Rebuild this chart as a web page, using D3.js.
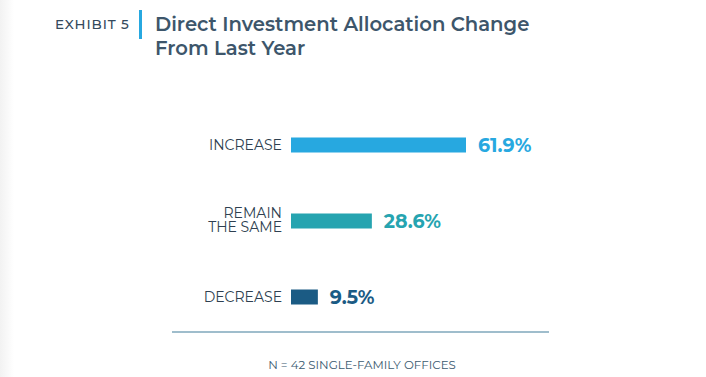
<!DOCTYPE html>
<html>
<head>
<meta charset="utf-8">
<script src="https://cdn.jsdelivr.net/npm/d3@7"></script>
<style>
  body { margin: 0; background: #fff; }
  text { font-family: Montserrat, 'Noto Sans', sans-serif; }
</style>
</head>
<body>
<script>
// data
var categories = [['INCREASE'], ['REMAIN', 'THE SAME'], ['DECREASE']]
var values = [61.9, 28.6, 9.5]
var colors = ['#27a8e0', '#26a4b0', '#1b5b84']

var w = 706
var h = 377

var svg = d3.select('body')
  .append('svg')
  .attr('width', w)
  .attr('height', h)

// faint shade on the left edge
var grad = svg.append('defs').append('linearGradient').attr('id', 'shade')
grad.append('stop').attr('offset', '0%').attr('stop-color', '#f2f2f2')
grad.append('stop').attr('offset', '100%').attr('stop-color', '#ffffff')
svg.append('rect').attr('x', 0).attr('y', 0).attr('width', 14).attr('height', h)
  .attr('fill', 'url(#shade)')

// header
svg.append('text')
  .attr('x', 55).attr('y', 29)
  .attr('font-size', 13.5).attr('font-weight', 500).attr('letter-spacing', 0.9)
  .attr('fill', '#34495c')
  .text('EXHIBIT 5')
svg.append('rect')
  .attr('x', 139).attr('y', 10).attr('width', 3).attr('height', 29)
  .attr('fill', '#27a8e0')
svg.append('text')
  .attr('x', 155).attr('y', 31)
  .attr('font-size', 19.6).attr('font-weight', 600)
  .attr('fill', '#3d566b')
  .text('Direct Investment Allocation Change')
svg.append('text')
  .attr('x', 155).attr('y', 55)
  .attr('font-size', 19.6).attr('font-weight', 600)
  .attr('fill', '#3d566b')
  .text('From Last Year')

// scales
var xScale = d3.scaleLinear()
  .domain([0, d3.max(values)])
  .range([0, 175])

var yScale = d3.scaleBand()
  .domain(d3.range(values.length))
  .range([107, 335])
  .padding(0)

var x0 = 291

function mid (i) { return yScale(i) + yScale.bandwidth() / 2 }

// bars
svg.selectAll('rect.bar')
  .data(values)
  .enter()
  .append('rect')
  .attr('class', 'bar')
  .attr('x', x0)
  .attr('y', function (d, i) { return mid(i) - 7.5 })
  .attr('width', function (d) { return xScale(d) })
  .attr('height', 15)
  .attr('fill', function (d, i) { return colors[i] })

// value labels
svg.selectAll('text.val')
  .data(values)
  .enter()
  .append('text')
  .attr('class', 'val')
  .attr('x', function (d) { return x0 + xScale(d) + 12 })
  .attr('y', function (d, i) { return mid(i) + 7 })
  .attr('font-size', 19).attr('font-weight', 'bold')
  .attr('fill', function (d, i) { return colors[i] })
  .text(function (d) { return d.toFixed(1) + '%' })

// category labels
var cats = svg.selectAll('text.cat')
  .data(categories)
  .enter()
  .append('text')
  .attr('class', 'cat')
  .attr('text-anchor', 'end')
  .attr('font-size', 14)
  .attr('fill', '#2e3f50')
  .attr('y', function (d, i) { return mid(i) + 5 - (d.length - 1) * 8.5 })
cats.selectAll('tspan')
  .data(function (d) { return d })
  .enter()
  .append('tspan')
  .attr('x', 282)
  .attr('dy', function (d, i) { return i === 0 ? 0 : 14.5 })
  .text(function (d) { return d })

// rule and footnote
svg.append('line')
  .attr('x1', 172).attr('x2', 549)
  .attr('y1', 332).attr('y2', 332)
  .attr('stroke', '#9fbdcc').attr('stroke-width', 2)
svg.append('text')
  .attr('x', 362).attr('y', 369)
  .attr('text-anchor', 'middle')
  .attr('font-size', 11.8)
  .attr('fill', '#3b5a70')
  .text('N = 42 SINGLE-FAMILY OFFICES')
</script>
</body>
</html>
